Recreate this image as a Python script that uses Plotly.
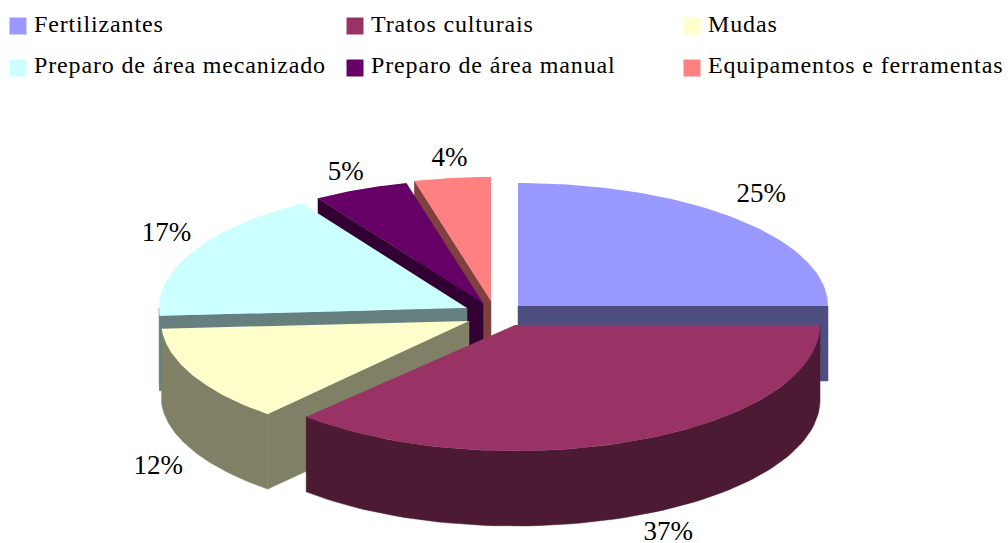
import numpy as np
import plotly.graph_objects as go

# Data
categories = ["Fertilizantes", "Tratos culturais", "Mudas",
              "Preparo de área mecanizado", "Preparo de área manual",
              "Equipamentos e ferramentas"]
values = [25, 37, 12, 17, 5, 4]

# Style
top_colors = ["#9999FF", "#993366", "#FFFFCC", "#CCFFFF", "#660066", "#FF8080"]
side_colors = ["#4D4D80", "#4D1A33", "#808066", "#668080", "#330033", "#804040"]

# Layout of the exploded 3-D pie, in page pixels
apex_x = [518, 515, 469, 467, 483, 491]
apex_y = [306, 325, 321, 308, 303, 301]
radius_x = [310, 305, 308, 308, 308, 308]
radius_y = [123, 126, 123, 124, 124, 124]
start_nudge_deg = [0, 0, -2.4, 0, 0, 0]
depth = 75
label_dx = [24, 32, -32, -26, -15, -3]
label_dy = [-24, 93, 94, -17, -16, -19]
draw_order = [0, 5, 4, 3, 2, 1]
legend_x = [18, 355, 692, 18, 355, 692]
legend_y = [26, 26, 26, 68, 68, 68]
legend_text_x = [34, 371, 708, 34, 371, 708]
legend_text_y = [26, 26, 26, 67, 67, 67]
FONT = "Liberation Serif"

fractions = np.array(values) / sum(values)
ends = np.cumsum(fractions) * 2 * np.pi
starts = ends - fractions * 2 * np.pi
mid = (starts + ends) / 2
starts = starts + np.radians(start_nudge_deg)


def rim(i, a, b, n=80):
    t = np.linspace(a, b, n)
    return apex_x[i] + radius_x[i] * np.sin(t), apex_y[i] - radius_y[i] * np.cos(t)


def add_poly(fig, x, y, color, name, line_width=0):
    fig.add_trace(go.Scatter(
        x=list(x) + [x[0]], y=list(y) + [y[0]], mode="lines", fill="toself",
        fillcolor=color, line=dict(width=line_width, color=color),
        hoverinfo="text", text=name, showlegend=False))


fig = go.Figure()
for i in draw_order:
    a, b = starts[i], ends[i]
    name = f"{categories[i]}: {values[i]}%"
    # Cut face: the start edge on the left half, the end edge on the right half
    for ang, show in ((a, np.sin(a) < -1e-6), (b, np.sin(b) > 1e-6)):
        if show:
            ex, ey = rim(i, ang, ang, 1)
            add_poly(fig,
                     [apex_x[i], ex[0], ex[0], apex_x[i]],
                     [apex_y[i], ey[0], ey[0] + depth, apex_y[i] + depth],
                     side_colors[i], name, 0.5)
    # Front rim: the part of the arc in the lower half of the ellipse
    ra, rb = max(a, np.pi / 2), min(b, 3 * np.pi / 2)
    if rb > ra:
        rx, ry = rim(i, ra, rb)
        add_poly(fig, list(rx) + list(rx[::-1]), list(ry) + list(ry[::-1] + depth),
                 side_colors[i], name, 0.5)
    # Top face
    rx, ry = rim(i, a, b)
    add_poly(fig, [apex_x[i]] + list(rx), [apex_y[i]] + list(ry), top_colors[i], name)

# Percentage labels
lx = [apex_x[i] + radius_x[i] * np.sin(mid[i]) + label_dx[i] for i in range(6)]
ly = [apex_y[i] - radius_y[i] * np.cos(mid[i]) + label_dy[i] for i in range(6)]
fig.add_trace(go.Scatter(
    x=lx, y=ly, mode="text", text=[f"{v}%" for v in values], hoverinfo="skip",
    textfont=dict(family=FONT, size=27, color="black"), textposition="middle center",
    showlegend=False))

# Legend
fig.add_trace(go.Scatter(
    x=legend_x, y=legend_y, mode="markers", hoverinfo="skip", showlegend=False,
    marker=dict(symbol="square", size=17, color=top_colors, line=dict(width=0))))
fig.add_trace(go.Scatter(
    x=legend_text_x, y=legend_text_y, mode="text", text=categories, hoverinfo="skip",
    textfont=dict(family=FONT, size=24, color="black"), textposition="middle right",
    showlegend=False))

fig.update_layout(
    width=1008, height=543, margin=dict(l=0, r=0, t=0, b=0),
    paper_bgcolor="white", plot_bgcolor="white",
    xaxis=dict(range=[0, 1008], visible=False, fixedrange=True),
    yaxis=dict(range=[543, 0], visible=False, fixedrange=True),
)
spacing_js = """
document.body.style.margin = '0';
var legendTexts = document.querySelectorAll('.scatterlayer .trace:last-child .textpoint text');
legendTexts.forEach(function (t) { t.style.letterSpacing = '0.85px'; });
"""
fig.write_html("out.html", post_script=spacing_js, config={"displayModeBar": False})
